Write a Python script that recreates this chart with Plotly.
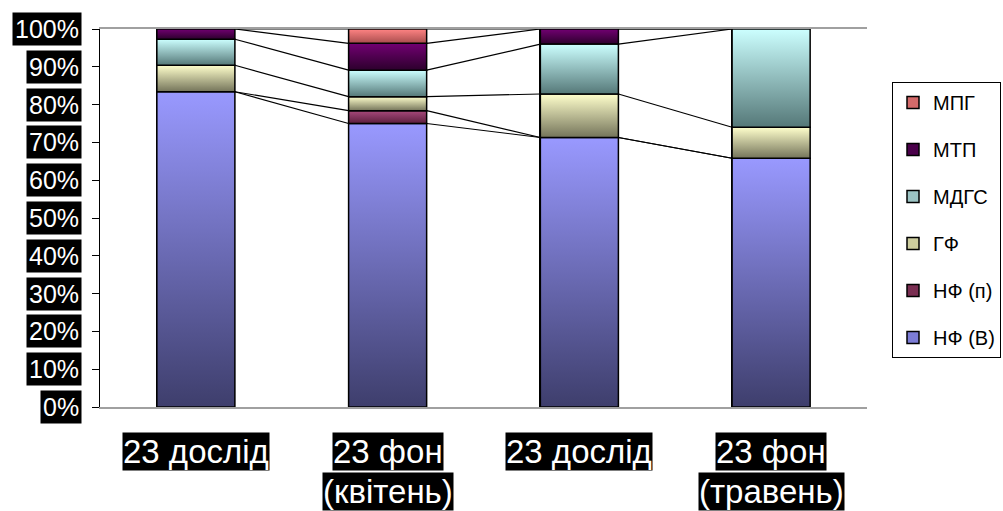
import plotly.graph_objects as go
import numpy as np

# Categories (x) and stacked shares, %, per fraction
categories = ["23 дослід", "23 фон<br>(квітень)", "23 дослід", "23 фон<br>(травень)"]
series_names = ["НФ (В)", "НФ (п)", "ГФ", "МДГС", "МТП", "МПГ"]
nf_v = [83.4, 75.0, 71.3, 65.8]
nf_p = [0.0, 3.4, 0.0, 0.0]
gf = [7.0, 3.7, 11.5, 8.2]
mdgs = [6.9, 7.0, 13.2, 26.0]
mtp = [2.7, 7.1, 4.0, 0.0]
mpg = [0.0, 3.8, 0.0, 0.0]
y_tick_values = [0, 10, 20, 30, 40, 50, 60, 70, 80, 90, 100]
y_tick_labels = ["0%", "10%", "20%", "30%", "40%", "50%", "60%", "70%", "80%", "90%", "100%"]

series_values = [nf_v, nf_p, gf, mdgs, mtp, mpg]
# (light top, dark bottom, legend swatch)
palette = [
    ("#9999FF", "#3E3E6C", "#7C7CD6"),
    ("#A84A7C", "#5C1E3E", "#7A2E52"),
    ("#FFFFCC", "#74745A", "#CDCD9E"),
    ("#CCFFFF", "#557878", "#9CC4C4"),
    ("#720072", "#2C002C", "#4A004A"),
    ("#FF8484", "#A84C4C", "#D46A6A"),
]

BAR_W = 0.407
FONT = "Liberation Sans, Arial, sans-serif"
x = np.arange(len(categories))
n_series = len(series_names)

fig = go.Figure()

# stacked bars (solid base colours; these also feed the legend, top fraction first)
for s, (name, vals, (light, dark, mid)) in enumerate(zip(series_names, series_values, palette)):
    fig.add_trace(go.Bar(
        x=x, y=vals, name=name, width=BAR_W,
        marker=dict(color=mid, line=dict(color="black", width=1.5)),
        legendgroup=name, legendrank=n_series - s,
    ))

# gradient shading of every segment, built from the same stacked values
stack = np.vstack(series_values)
tops = np.cumsum(stack, axis=0)
bases = tops - stack
for s, (light, dark, mid) in enumerate(palette):
    for i in range(len(categories)):
        if stack[s, i] <= 0:
            continue
        x0, x1 = x[i] - BAR_W / 2, x[i] + BAR_W / 2
        b, t = bases[s, i], tops[s, i]
        fig.add_trace(go.Scatter(
            x=[x0, x1, x1, x0, x0], y=[b, b, t, t, b],
            mode="lines", fill="toself",
            fillgradient=dict(type="vertical", colorscale=[[0, dark], [1, light]]),
            line=dict(color="black", width=1.5),
            showlegend=False, hoverinfo="skip",
        ))

# series lines joining the top of each fraction between neighbouring bars
for s in range(n_series):
    lx, ly = [], []
    for i in range(len(categories) - 1):
        lx += [x[i] + BAR_W / 2, x[i + 1] - BAR_W / 2, None]
        ly += [tops[s, i], tops[s, i + 1], None]
    fig.add_trace(go.Scatter(
        x=lx, y=ly, mode="lines", line=dict(color="black", width=1.2),
        showlegend=False, hoverinfo="skip",
    ))

annotations = []
# y tick labels in black boxes
for v, lab in zip(y_tick_values, y_tick_labels):
    annotations.append(dict(
        x=0, xref="paper", y=v, yref="y", xanchor="right", yanchor="middle",
        xshift=-18, text=lab, showarrow=False, bgcolor="black", borderpad=2,
        font=dict(family=FONT, size=25, color="white"),
    ))
# category labels, one black box per line
for i, cat in enumerate(categories):
    for k, line in enumerate(cat.split("<br>")):
        annotations.append(dict(
            x=x[i], xref="x", y=0, yref="paper", xanchor="center", yanchor="top",
            yshift=-25 - 40 * k, text=line, showarrow=False, bgcolor="black",
            borderpad=0, font=dict(family=FONT, size=33, color="white"),
        ))

fig.update_layout(
    width=1003, height=511,
    margin=dict(l=100, r=136, t=29, b=104, autoexpand=False),
    paper_bgcolor="white", plot_bgcolor="white",
    barmode="stack", bargap=0,
    showlegend=True,
    legend=dict(
        x=(892 - 100) / 767, xanchor="left", y=(407 - 82) / 378, yanchor="top",
        traceorder="grouped", tracegroupgap=18,
        bgcolor="white", bordercolor="black", borderwidth=1,
        font=dict(family=FONT, size=20, color="black"),
        itemwidth=30,
    ),
    xaxis=dict(range=[-0.5, 3.5], showticklabels=False, ticks="",
               showgrid=False, zeroline=False, showline=True,
               linecolor="#A0A0A0", linewidth=2, mirror=True),
    yaxis=dict(range=[0, 100], tickvals=y_tick_values, showticklabels=False,
               ticks="outside", ticklen=7, tickcolor="black", tickwidth=1,
               showgrid=False, zeroline=False, showline=True,
               linecolor="black", linewidth=1),
    annotations=annotations,
)

fig.write_html("out.html")
